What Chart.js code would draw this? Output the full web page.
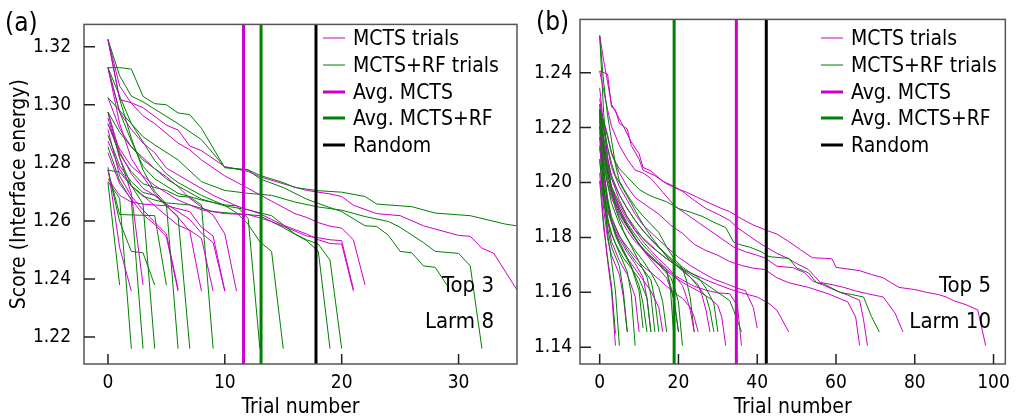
<!DOCTYPE html>
<html>
<head>
<meta charset="utf-8">
<script src="https://cdn.jsdelivr.net/npm/chart.js@4.4.0/dist/chart.umd.min.js"></script>
<style>
  body { margin: 0; background: #fff; }
  #page { position: relative; width: 1018px; height: 419px; overflow: hidden;
          font-family: 'DejaVu Sans Condensed', 'Liberation Sans', sans-serif; color: #000; }
  canvas { position: absolute; top: 0; }
  #chartA { left: 0; }
  #chartB { left: 520px; }
  .lbl { position: absolute; white-space: nowrap; transform: translateY(-50%); line-height: 1; }
  .row { position: absolute; height: 0; }
  .row .sw { position: absolute; left: 0; width: 22px; transform: translateY(-50%); }
  .row span { position: absolute; left: 30px; transform: translateY(-50%); white-space: nowrap; font-size: 21px; line-height: 1; }
</style>
</head>
<body>
<div id="page">
  <canvas id="chartA" width="525" height="419"></canvas>
  <canvas id="chartB" width="498" height="419"></canvas>
  <div id="legendA"></div>
  <div id="legendB"></div>
  <div class="lbl" style="left:5px;top:22px;font-size:26px">(a)</div>
  <div class="lbl" style="left:536px;top:21px;font-size:26px">(b)</div>
  <div class="lbl" style="right:524px;top:285px;font-size:22px">Top 3</div>
  <div class="lbl" style="right:524px;top:321px;font-size:22px">Larm 8</div>
  <div class="lbl" style="right:27px;top:285px;font-size:22px">Top 5</div>
  <div class="lbl" style="right:27px;top:321px;font-size:22px">Larm 10</div>
</div>
<script>
// ---- data ----
const MAGENTA = '#cc00cc';
const GREEN = '#008000';

const legendLabels = ['MCTS trials', 'MCTS+RF trials', 'Avg. MCTS', 'Avg. MCTS+RF', 'Random'];

// panel (a): Top 3, Larm 8
const xTicksA = [0, 10, 20, 30];
const yTicksA = [1.22, 1.24, 1.26, 1.28, 1.30, 1.32];
const xRangeA = [-2.05, 35];
const yRangeA = [1.2107, 1.3277];
const avgA = [11.6, 13.1, 17.8]; // Avg. MCTS, Avg. MCTS+RF, Random

const trialsMctsA = [
  [[0,1.3225],[1,1.3018],[2,1.3007],[3,1.299],[5,1.293],[6,1.2913],[7,1.2858],[8,1.2842],[10,1.2787],[12,1.277],[13,1.2752],[15,1.2728],[17,1.2705],[19,1.2693],[20,1.2684],[21,1.2654],[23,1.2625],[25,1.2618],[27,1.2583],[30,1.255],[31,1.2547],[32,1.2506],[33,1.2489],[35,1.2362]],
  [[0,1.3225],[1,1.3065],[2,1.3005],[3,1.2962],[4,1.2935],[6,1.2868],[7,1.2845],[8,1.281],[10,1.2755],[12,1.2712],[14,1.2668],[16,1.2625],[17,1.2612],[18,1.2594],[19,1.2582],[20,1.2575],[21,1.2535],[22,1.2379]],
  [[0,1.3128],[1,1.2975],[2,1.2915],[3,1.2868],[4,1.2835],[5,1.2782],[7,1.2735],[9,1.2688],[11,1.2652],[13,1.2625],[15,1.2585],[17,1.2555],[18,1.2535],[19,1.2522],[20,1.252],[21,1.2358]],
  [[0,1.2932],[1,1.2848],[2,1.2788],[3,1.2755],[4,1.2722],[6,1.2672],[8,1.2638],[10,1.2625],[12,1.2622],[14,1.2598],[16,1.2565],[17,1.2548],[18,1.2542],[19,1.2535],[20,1.2532],[21,1.2365]],
  [[0,1.3025],[1,1.2918],[2,1.2855],[3,1.2818],[4,1.278],[5,1.2752],[6,1.2718],[7,1.2678],[8,1.2648],[9,1.262],[10,1.2555],[11,1.2358]],
  [[0,1.2975],[1,1.2838],[2,1.2762],[3,1.2712],[4,1.2688],[5,1.2658],[6,1.2632],[7,1.2605],[8,1.2558],[9,1.2525],[10,1.2358]],
  [[0,1.2875],[1,1.2778],[2,1.2722],[3,1.2688],[4,1.2652],[5,1.2618],[6,1.2585],[7,1.2568],[8,1.254],[9,1.2358]],
  [[0,1.3128],[1,1.2935],[2,1.2815],[3,1.2752],[4,1.2695],[5,1.2652],[6,1.2612],[7,1.2565],[8,1.2358]],
  [[0,1.2835],[1,1.2728],[2,1.2675],[3,1.2622],[4,1.2588],[5,1.2545],[6,1.2358]],
  [[0,1.2955],[1,1.2818],[2,1.2695],[3,1.2379]],
  [[0,1.2785],[1,1.2508],[2,1.2358]],
  [[0,1.2745],[1,1.2688],[2,1.2665],[3,1.2658],[5,1.2652],[7,1.2632],[8,1.2578],[9,1.2548],[10,1.2358]],
  [[0,1.2915],[1,1.2755],[2,1.2685],[3,1.2638],[4,1.2595],[5,1.2555],[6,1.2365]]
];

const trialsRfA = [
  [[0,1.3128],[1,1.3128],[2,1.3123],[3,1.3029],[4,1.3004],[5,1.3],[6,1.2972],[7,1.2966],[8,1.2919],[10,1.2783],[12,1.2776],[13,1.2757],[15,1.2732],[16,1.2715],[18,1.2704],[20,1.2699],[22,1.2684],[23,1.2658],[26,1.2649],[28,1.2627],[31,1.2618],[34,1.2589],[35,1.2583]],
  [[0,1.3225],[1,1.31],[2,1.303],[3,1.301],[4,1.2985],[6,1.2935],[8,1.288],[10,1.2785],[12,1.2775],[13,1.2745],[15,1.2715],[17,1.2675],[18,1.266],[20,1.2632],[22,1.2583],[23,1.2581],[24,1.255],[25,1.2495],[26,1.249],[27,1.2445],[28,1.244],[29,1.2379]],
  [[0,1.3025],[1,1.298],[2,1.2935],[3,1.289],[4,1.2862],[6,1.281],[8,1.2735],[10,1.2705],[12,1.2695],[14,1.2688],[16,1.2665],[18,1.2648],[20,1.2637],[22,1.2615],[24,1.2598],[25,1.2578],[27,1.2525],[28,1.2495],[30,1.2488],[31,1.2445],[32,1.216]],
  [[0,1.2975],[1,1.2905],[2,1.2855],[3,1.281],[4,1.278],[5,1.2745],[6,1.272],[8,1.2675],[10,1.2652],[12,1.2638],[14,1.2618],[16,1.2555],[17,1.2535],[18,1.252],[19,1.2465],[20,1.216]],
  [[0,1.2775],[1,1.2768],[2,1.272],[3,1.2685],[4,1.2672],[5,1.2662],[7,1.2655],[9,1.2632],[11,1.2625],[13,1.2618],[15,1.2577],[17,1.2532],[18,1.2495],[19,1.216]],
  [[0,1.3128],[1,1.303],[2,1.2935],[3,1.2872],[4,1.2808],[5,1.2762],[6,1.2732],[8,1.2688],[10,1.2653],[11,1.2628],[12,1.2588],[13,1.2528],[14,1.2495],[15,1.216]],
  [[0,1.3128],[1,1.2975],[2,1.2875],[3,1.2788],[4,1.2745],[6,1.2695],[8,1.2672],[10,1.2655],[11,1.2652],[12,1.2608],[13,1.216]],
  [[0,1.2935],[1,1.283],[2,1.277],[3,1.2728],[4,1.2715],[5,1.2705],[6,1.2685],[7,1.2682],[8,1.2655],[9,1.216]],
  [[0,1.2895],[1,1.279],[2,1.2735],[3,1.2698],[4,1.2688],[5,1.2652],[6,1.2615],[7,1.216]],
  [[0,1.3225],[1,1.302],[2,1.2885],[3,1.2775],[4,1.2702],[5,1.2658],[6,1.216]],
  [[0,1.2975],[1,1.2818],[2,1.2722],[3,1.2658],[4,1.216]],
  [[0,1.2855],[1,1.2738],[2,1.2672],[3,1.216]],
  [[0,1.2735],[1,1.2678],[2,1.216]],
  [[0,1.2732],[1,1.2379]],
  [[0,1.2775],[1,1.2598],[2,1.2495],[3,1.249],[4,1.2379]],
  [[0,1.2775],[1,1.2622],[4,1.2618],[5,1.2379]]
];

// panel (b): Top 5, Larm 10
const xTicksB = [0, 20, 40, 60, 80, 100];
const yTicksB = [1.14, 1.16, 1.18, 1.20, 1.22, 1.24];
const xRangeB = [-5, 103];
const yRangeB = [1.1339, 1.2594];
const avgB = [34.7, 18.9, 42.3];

const trialsMctsB = [
  [[0,1.2406],[2,1.2395],[3,1.2275],[4,1.2265],[5,1.2215],[7,1.2195],[8,1.2135],[10,1.2085],[11,1.2045],[14,1.2025],[17,1.1995],[20,1.1975],[22,1.1965],[25,1.1945],[28,1.1924],[31,1.1905],[33,1.1894],[36,1.1868],[39,1.1845],[42,1.1828],[45,1.1812],[48,1.1785],[51,1.1755],[54,1.1726],[57,1.1724],[59,1.1722],[60,1.1691],[63,1.1685],[66,1.1679],[69,1.1665],[72,1.1653],[74,1.1635],[76,1.1618],[80,1.161],[83,1.16],[86,1.1592],[88,1.1583],[90,1.1569],[93,1.1555],[96,1.1536],[98,1.1406]],
  [[0,1.2535],[1,1.2445],[2,1.2365],[3,1.2285],[4,1.2258],[6,1.2205],[8,1.2148],[10,1.2105],[11,1.2055],[13,1.2042],[16,1.2005],[19,1.1985],[21,1.1968],[24,1.1935],[27,1.1905],[30,1.1885],[33,1.1862],[35,1.1835],[38,1.1805],[40,1.1785],[42,1.1767],[45,1.1742],[48,1.1722],[50,1.1705],[53,1.1683],[56,1.1636],[59,1.1628],[62,1.1618],[65,1.1605],[68,1.1595],[72,1.1583],[75,1.1524],[77,1.1456]],
  [[0,1.2406],[1,1.2335],[2,1.2265],[3,1.2205],[5,1.2135],[7,1.2085],[9,1.2045],[11,1.2035],[13,1.2015],[16,1.1965],[19,1.1915],[22,1.1885],[25,1.1855],[28,1.1825],[31,1.1795],[34,1.1765],[37,1.1748],[40,1.1735],[42,1.1725],[45,1.1695],[49,1.169],[52,1.1672],[54,1.1642],[57,1.1625],[60,1.1606],[63,1.159],[66,1.1571],[67,1.15],[68,1.1406]],
  [[0,1.2265],[1,1.2225],[2,1.2175],[3,1.2105],[5,1.2035],[7,1.1985],[9,1.1945],[12,1.1915],[15,1.1885],[18,1.1845],[21,1.1815],[24,1.1775],[27,1.1752],[30,1.1735],[33,1.1712],[36,1.1698],[39,1.1688],[42,1.1683],[45,1.1653],[48,1.1635],[53,1.1618],[58,1.1595],[63,1.1565],[65,1.151],[66,1.1406]],
  [[0,1.2205],[1,1.2105],[2,1.2035],[3,1.1975],[5,1.1915],[7,1.1865],[9,1.1825],[12,1.1785],[15,1.1745],[18,1.1712],[21,1.1685],[24,1.1665],[27,1.1645],[30,1.1628],[33,1.1612],[36,1.1598],[40,1.1583],[43,1.1559],[45,1.1535],[48,1.1456]],
  [[0,1.2306],[1,1.2205],[2,1.2125],[3,1.2055],[5,1.1985],[7,1.1935],[9,1.1885],[11,1.1845],[14,1.1805],[17,1.1765],[20,1.1728],[23,1.1698],[26,1.1672],[29,1.1648],[32,1.1632],[35,1.1615],[37,1.1606],[39,1.1545],[40,1.147]],
  [[0,1.2165],[1,1.2065],[2,1.1995],[3,1.1945],[5,1.1875],[7,1.1825],[9,1.1785],[12,1.1742],[15,1.1705],[18,1.1672],[21,1.1645],[24,1.1622],[27,1.1608],[30,1.1598],[33,1.1595],[35,1.155],[36,1.1406]],
  [[0,1.2245],[1,1.2125],[2,1.2035],[3,1.1965],[5,1.1895],[7,1.1845],[9,1.1798],[11,1.1758],[13,1.1725],[16,1.1688],[19,1.1655],[22,1.1628],[25,1.1605],[28,1.1578],[30,1.1552],[31,1.151],[32,1.1406]],
  [[0,1.2125],[1,1.2005],[2,1.1925],[3,1.1865],[5,1.1805],[7,1.1765],[9,1.1728],[11,1.1695],[13,1.1672],[15,1.1648],[17,1.1622],[19,1.1598],[21,1.1578],[23,1.1545],[24,1.151],[25,1.1456]],
  [[0,1.2345],[1,1.2205],[2,1.2095],[3,1.2015],[5,1.1935],[7,1.1875],[9,1.1825],[11,1.1785],[13,1.1752],[15,1.1722],[17,1.1695],[19,1.1662],[21,1.1625],[22,1.1585],[23,1.1535],[24,1.1456]],
  [[0,1.2185],[1,1.2025],[2,1.1925],[3,1.1855],[5,1.1775],[7,1.1725],[9,1.1685],[11,1.1645],[13,1.1605],[15,1.1545],[16,1.1456]],
  [[0,1.2035],[1,1.1855],[2,1.1715],[3,1.1605],[4,1.1406]],
  [[0,1.2235],[1,1.1985],[2,1.1865],[3,1.1785],[5,1.1715],[7,1.1665],[9,1.1585],[10,1.1456]],
  [[0,1.2285],[1,1.2145],[2,1.2055],[3,1.1985],[5,1.1905],[7,1.1845],[9,1.1798],[11,1.1755],[13,1.1718],[15,1.1685],[17,1.1652],[18,1.1615],[19,1.1565],[20,1.1456]],
  [[0,1.2205],[1,1.2125],[2,1.2065],[3,1.2015],[5,1.1955],[7,1.1905],[9,1.1862],[11,1.1825],[13,1.1795],[15,1.1762],[17,1.1735],[19,1.1705],[21,1.1678],[23,1.1655],[25,1.1628],[26,1.1588],[27,1.1535],[28,1.1456]],
  [[0,1.2005],[1,1.1945],[2,1.1895],[3,1.1855],[5,1.1795],[7,1.1745],[9,1.1705],[11,1.1655],[12,1.158],[13,1.1456]],
  [[0,1.2085],[1,1.1905],[2,1.1795],[3,1.1735],[5,1.1665],[6,1.1585],[7,1.1456]]
];

const trialsRfB = [
  [[0,1.2265],[1,1.222],[2,1.2165],[3,1.211],[4,1.2075],[5,1.205],[6,1.2035],[8,1.2005],[10,1.1975],[12,1.1958],[14,1.1945],[17,1.193],[20,1.1905],[23,1.1892],[26,1.1877],[29,1.1855],[32,1.1836],[34,1.1783],[36,1.1772],[38,1.1765],[41,1.1748],[43,1.173],[46,1.1726],[48,1.1724],[50,1.1689],[53,1.1671],[55,1.1636],[57,1.163],[61,1.16],[64,1.1592],[67,1.1583],[69,1.1512],[71,1.1456]],
  [[0,1.2265],[1,1.2195],[2,1.213],[3,1.207],[4,1.2025],[6,1.1975],[8,1.1925],[10,1.1872],[12,1.1825],[14,1.1785],[16,1.1748],[18,1.1712],[20,1.1692],[23,1.1665],[26,1.164],[28,1.162],[30,1.16],[33,1.157],[34,1.1535],[36,1.1456]],
  [[0,1.2535],[1,1.2365],[2,1.2245],[3,1.2155],[4,1.2065],[5,1.2005],[7,1.1955],[9,1.1912],[11,1.1878],[13,1.1848],[15,1.1818],[17,1.1765],[19,1.172],[21,1.1692],[23,1.1672],[25,1.1655],[27,1.1615],[29,1.156],[30,1.1456]],
  [[0,1.2205],[1,1.2105],[2,1.2035],[3,1.1985],[5,1.1925],[7,1.1875],[9,1.1835],[11,1.1795],[13,1.1768],[15,1.1745],[17,1.1722],[19,1.1705],[21,1.1682],[23,1.1655],[25,1.162],[27,1.1585],[28,1.1535],[29,1.1456]],
  [[0,1.2265],[1,1.2135],[2,1.2045],[3,1.1975],[4,1.1925],[6,1.1865],[8,1.1818],[10,1.1775],[12,1.1745],[14,1.1718],[16,1.1685],[18,1.1655],[19,1.1618],[20,1.1565],[21,1.1406]],
  [[0,1.2225],[1,1.2085],[2,1.1995],[3,1.1925],[5,1.1848],[7,1.1795],[9,1.1752],[11,1.1715],[13,1.1672],[15,1.1618],[16,1.1565],[17,1.1456]],
  [[0,1.2265],[1,1.2055],[2,1.1935],[3,1.1855],[4,1.1805],[6,1.1745],[8,1.1695],[10,1.1625],[11,1.156],[12,1.1456]],
  [[0,1.2205],[1,1.1985],[2,1.1875],[3,1.1812],[5,1.1742],[7,1.1675],[8,1.1595],[9,1.1406]],
  [[0,1.2265],[1,1.1955],[2,1.1815],[3,1.1715],[4,1.1605],[5,1.1406]],
  [[0,1.2135],[1,1.1985],[2,1.1905],[4,1.1815],[6,1.1755],[8,1.1695],[10,1.1605],[11,1.147]],
  [[0,1.2535],[1,1.2255],[2,1.2085],[3,1.1975],[4,1.1905],[6,1.1825],[8,1.1768],[10,1.1712],[12,1.1655],[13,1.159],[14,1.1456]],
  [[0,1.2205],[1,1.2105],[2,1.2015],[3,1.1955],[5,1.1885],[7,1.1838],[9,1.1795],[11,1.1755],[13,1.1725],[15,1.1705],[17,1.1675],[18,1.1625],[19,1.156],[20,1.1456]],
  [[0,1.2165],[1,1.1945],[2,1.1835],[3,1.1765],[5,1.1695],[6,1.1605],[7,1.1456]],
  [[0,1.2265],[1,1.2165],[2,1.2085],[3,1.2025],[5,1.1955],[7,1.1905],[9,1.1862],[11,1.1825],[13,1.1792],[15,1.1765],[17,1.1738],[19,1.1712],[21,1.1688],[22,1.1645],[23,1.158],[24,1.1456]],
  [[0,1.2085],[1,1.1935],[2,1.1855],[4,1.1778],[6,1.1725],[8,1.1688],[10,1.165],[12,1.158],[13,1.1456]],
  [[0,1.2285],[1,1.2165],[2,1.2045],[3,1.1975],[5,1.1905],[7,1.1852],[9,1.181],[11,1.1772],[13,1.1742],[15,1.1712],[17,1.1685],[18,1.1605],[19,1.1406]],
  [[0,1.2005],[1,1.1835],[2,1.1725],[3,1.1625],[4,1.145]],
  [[0,1.2265],[1,1.2045],[2,1.1945],[3,1.1875],[5,1.1805],[7,1.1755],[9,1.1715],[11,1.1685],[13,1.1645],[14,1.1575],[15,1.1456]]
];

// ---- chart building ----
const FONT = "'DejaVu Sans Condensed', 'Liberation Sans', sans-serif";

function trialSet(tr, color) {
  return { data: tr.map(([x, y]) => ({ x, y })), borderColor: color, borderWidth: 1,
           pointRadius: 0, fill: false, tension: 0 };
}

function buildDatasets(mcts, rf, avg, yr) {
  // first dataset is drawn on top, so the average lines go first
  const avgColors = [MAGENTA, GREEN, '#000'];
  const sets = avg.map((v, i) => ({
    data: [{ x: v, y: yr[0] }, { x: v, y: yr[1] }],
    borderColor: avgColors[i], borderWidth: 3, pointRadius: 0, fill: false
  }));
  const n = Math.max(mcts.length, rf.length);
  for (let i = 0; i < n; i++) {
    if (rf[i]) sets.push(trialSet(rf[i], GREEN));
    if (mcts[i]) sets.push(trialSet(mcts[i], MAGENTA));
  }
  return sets;
}

const frameTicks = {
  id: 'frameTicks',
  afterDatasetsDraw(chart) {
    const { ctx, chartArea: a, scales: { x, y } } = chart;
    ctx.save();
    ctx.strokeStyle = '#555';
    ctx.lineWidth = 1.5;
    ctx.strokeRect(a.left, a.top, a.right - a.left, a.bottom - a.top);
    ctx.strokeStyle = '#222';
    ctx.beginPath();
    x.ticks.forEach(t => {
      const p = x.getPixelForValue(t.value);
      ctx.moveTo(p, a.bottom); ctx.lineTo(p, a.bottom - 10);
    });
    y.ticks.forEach(t => {
      const p = y.getPixelForValue(t.value);
      ctx.moveTo(a.left, p); ctx.lineTo(a.left + 11, p);
    });
    ctx.stroke();
    ctx.restore();
  }
};

function makeChart(id, o) {
  return new Chart(document.getElementById(id), {
    type: 'line',
    data: { datasets: buildDatasets(o.mcts, o.rf, o.avg, o.yr) },
    options: {
      responsive: false,
      animation: false,
      layout: { padding: { top: 10, right: o.padRight, left: 0, bottom: 0 } },
      plugins: { legend: { display: false }, tooltip: { enabled: false } },
      scales: {
        x: {
          type: 'linear', min: o.xr[0], max: o.xr[1],
          afterBuildTicks: s => { s.ticks = o.xt.map(v => ({ value: v })); },
          afterFit: s => { s.height = 55; },
          grid: { display: false, drawTicks: false },
          border: { display: false },
          ticks: { padding: 8, color: '#000', autoSkip: false, maxRotation: 0,
                   font: { family: FONT, size: 19 }, callback: v => String(v) },
          title: { display: true, text: 'Trial number', color: '#000', padding: { bottom: -1 },
                   font: { family: FONT, size: 21 } }
        },
        y: {
          type: 'linear', min: o.yr[0], max: o.yr[1],
          afterBuildTicks: s => { s.ticks = o.yt.map(v => ({ value: v })); },
          afterFit: s => { s.width = o.yWidth; },
          grid: { display: false, drawTicks: false },
          border: { display: false },
          ticks: { padding: o.yPad, color: '#000', autoSkip: false,
                   font: { family: FONT, size: 19 }, callback: v => v.toFixed(2) },
          title: { display: o.yTitle, text: 'Score (Interface energy)', color: '#000',
                   padding: { top: 7 }, font: { family: FONT, size: 21 } }
        }
      }
    },
    plugins: [frameTicks]
  });
}

makeChart('chartA', { mcts: trialsMctsA, rf: trialsRfA, avg: avgA, xr: xRangeA, yr: yRangeA,
  xt: xTicksA, yt: yTicksA, yWidth: 84, yPad: 13, yTitle: true, padRight: 8 });
makeChart('chartB', { mcts: trialsMctsB, rf: trialsRfB, avg: avgB, xr: xRangeB, yr: yRangeB,
  xt: xTicksB, yt: yTicksB, yWidth: 60, yPad: 8, yTitle: false, padRight: 6 });

// legends (same in both panels)
const legendStyles = [[MAGENTA, 1], [GREEN, 1], [MAGENTA, 3], [GREEN, 3], ['#000', 3]];
function buildLegend(id, left) {
  const box = document.getElementById(id);
  legendLabels.forEach((txt, i) => {
    const row = document.createElement('div');
    row.className = 'row';
    row.style.left = left + 'px';
    row.style.top = (38 + i * 26.8) + 'px';
    const sw = document.createElement('div');
    sw.className = 'sw';
    sw.style.borderTop = legendStyles[i][1] + 'px solid ' + legendStyles[i][0];
    const s = document.createElement('span');
    s.textContent = txt;
    row.appendChild(sw);
    row.appendChild(s);
    box.appendChild(row);
  });
}
buildLegend('legendA', 323);
buildLegend('legendB', 821);
</script>
</body>
</html>
